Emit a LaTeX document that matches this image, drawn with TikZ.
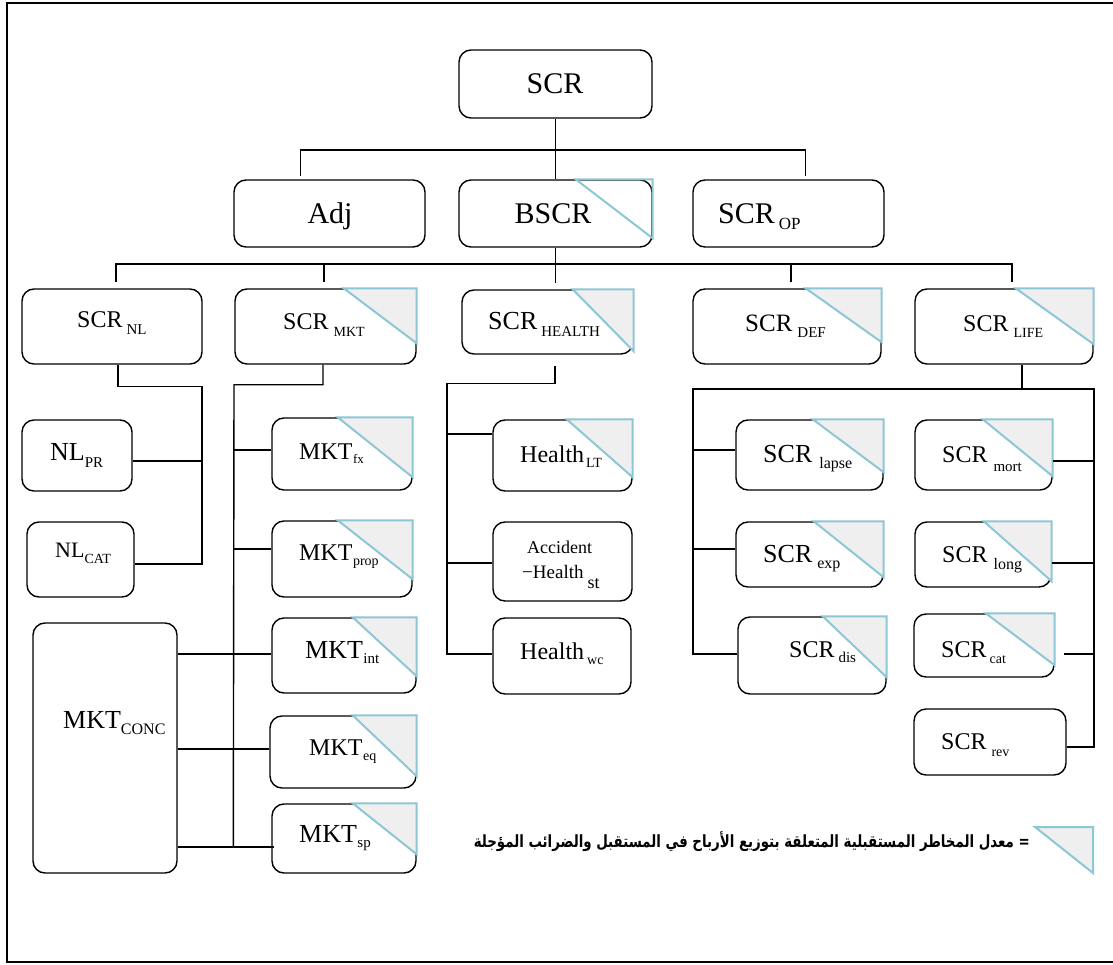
\documentclass[tikz,border=0pt]{standalone}
\usepackage{fontspec}
\usepackage{graphicx}
\setmainfont{Liberation Serif}
\newfontfamily\arabicfont[Script=Arabic]{DejaVu Sans}
\TeXXeTstate=1
\usetikzlibrary{calc}
\definecolor{cornerblue}{RGB}{141,198,213}
\definecolor{cornergray}{RGB}{239,239,239}
% font size helper and lowered index helper: size, drop, text
\newcommand{\fs}[1]{\fontsize{#1}{#1}\selectfont}
\newcommand{\dn}[3]{{\fs{#1}\raisebox{-#2pt}{#3}}}
% box given by its corners (x1,y1) (x2,y2) in pixel units
\newcommand{\boxat}[5]{%
  \pgfmathsetmacro{\bw}{#4-#2}\pgfmathsetmacro{\bh}{#5-#3}%
  \node[box, minimum width=\bw pt, minimum height=\bh pt] (#1) at ({(#2+#4)/2},{(#3+#5)/2}) {};}
% shaded corner triangle: node, width, height
\newcommand{\corner}[3]{\filldraw[tri] ([xshift=-#2pt]#1.north east) -- (#1.north east) -- ([yshift=-#3pt]#1.north east) -- cycle;}
\begin{document}
\begin{tikzpicture}[x=1pt, y=-1pt,
  box/.style={draw, rounded corners=12pt, line width=1.4pt, fill=white, inner sep=0pt},
  lbl/.style={inner sep=0pt, anchor=base west},
  tri/.style={fill=cornergray, draw=cornerblue, line width=2pt, line join=miter},
  wire/.style={line width=1.4pt}]
\useasboundingbox (0,0) rectangle (1113,965);
\fill[white] (0,0) rectangle (1113,965);
% outer frame
\draw[line width=2.2pt] (1113,3) -- (7,3) -- (7,962) -- (1113,962);

% ---- boxes ----
\boxat{scr}{459}{50}{652}{118}
\boxat{adj}{234}{180}{425}{247}
\boxat{bscr}{459}{180}{652}{247}
\boxat{scrop}{693}{180}{884}{247}
\boxat{nl}{22}{289}{202}{364}
\boxat{mkt}{235}{289}{416}{364}
\boxat{hlth}{462}{290}{633}{354}
\boxat{def}{693}{289}{881}{364}
\boxat{life}{915}{289}{1093}{364}
\boxat{nlpr}{22}{420}{132}{491}
\boxat{nlcat}{27}{522}{134}{597}
\boxat{fx}{272}{418}{412}{490}
\boxat{prop}{272}{521}{412}{597}
\boxat{int}{272}{618}{416}{693}
\boxat{eq}{270}{716}{416}{788}
\boxat{sp}{272}{804}{416}{873}
\boxat{conc}{33}{623}{177}{873}
\boxat{hlt}{493}{420}{632}{491}
\boxat{acc}{493}{522}{632}{601}
\boxat{hwc}{493}{618}{631}{694}
\boxat{lapse}{736}{420}{883}{490}
\boxat{exp}{736}{522}{883}{587}
\boxat{dis}{738}{617}{886}{694}
\boxat{mort}{915}{420}{1052}{490}
\boxat{long}{915}{522}{1051}{587}
\boxat{cat}{914}{614}{1054}{677}
\boxat{rev}{914}{709}{1066}{775}

% ---- corner triangles ----
\draw[tri, fill=none] ([xshift=-77pt]bscr.north east) -- (bscr.north east) -- ([yshift=-59pt]bscr.north east) -- cycle;
\corner{mkt}{73}{55}
\corner{hlth}{61}{62}
\corner{def}{76}{54}
\corner{life}{78}{56}
\corner{fx}{75}{60}
\corner{prop}{75}{59}
\corner{int}{64}{59}
\corner{eq}{64}{61}
\corner{sp}{64}{51}
\corner{hlt}{66}{58}
\corner{lapse}{71}{53}
\corner{exp}{70}{56}
\corner{dis}{64}{61}
\corner{mort}{70}{57}
\corner{long}{68}{60}
\corner{cat}{69}{52}

% ---- labels ----
\node[lbl, anchor=base] (t-scr) at (555,94) {\fs{30}SCR};
\node[lbl, anchor=base] (t-adj) at (330,224) {\fs{30}Adj};
\node[lbl, anchor=base] (t-bscr) at (553,224) {\fs{30}BSCR};
\node[lbl] (t-scrop) at (718,224) {\fs{30}SCR\hspace{4pt}\dn{17}{6}{OP}};
\node[lbl] (t-nl) at (77,328) {\fs{24}SCR\hspace{4pt}\dn{15}{6}{NL}};
\node[lbl] (t-mkt) at (283,330) {\fs{24}SCR\hspace{5pt}\dn{14}{7}{MKT}};
\node[lbl] (t-hlth) at (488,330) {\fs{26}SCR\hspace{4pt}\dn{15}{7}{HEALTH}};
\node[lbl] (t-def) at (745,331) {\fs{25}SCR\hspace{5pt}\dn{15}{6}{DEF}};
\node[lbl] (t-life) at (963,331) {\fs{24}SCR\hspace{5pt}\dn{14}{6}{LIFE}};
\node[lbl] (t-nlpr) at (50,460) {\fs{26}NL\dn{15}{7}{PR}};
\node[lbl] (t-nlcat) at (55,557) {\fs{22}NL\dn{14}{6}{CAT}};
\node[lbl] (t-fx) at (299,459) {\fs{24}MKT\hspace{0.5pt}\dn{13}{4}{fx}};
\node[lbl] (t-prop) at (299,560) {\fs{24}MKT\hspace{0.5pt}\dn{14}{5}{prop}};
\node[lbl] (t-int) at (305,658) {\fs{26}MKT\hspace{0.5pt}\dn{15}{5}{int}};
\node[lbl] (t-eq) at (309,755) {\fs{24}MKT\hspace{0.5pt}\dn{14}{5}{eq}};
\node[lbl] (t-sp) at (299,842) {\fs{26}MKT\hspace{0.5pt}\dn{15}{5}{sp}};
\node[lbl] (t-conc) at (63,728) {\fs{26}MKT\dn{16}{6}{CONC}};
\node[lbl] (t-hlt) at (520,462) {\fs{24}Health\hspace{2pt}\dn{14}{5}{LT}};
\node[lbl] (t-acc1) at (527,553) {\fs{18}Accident};
\node[lbl] (t-acc2) at (522,578) {\fs{19}−Health\hspace{4pt}\dn{18}{10}{st}};
\node[lbl] (t-hwc) at (520,659) {\fs{24}Health\hspace{3pt}\dn{14}{5}{wc}};
\node[lbl] (t-lapse) at (763,462) {\fs{26}SCR\hspace{7pt}\dn{16}{6}{lapse}};
\node[lbl] (t-exp) at (763,562) {\fs{26}SCR\hspace{5pt}\dn{16}{6}{exp}};
\node[lbl] (t-dis) at (789,657) {\fs{24}SCR\hspace{4pt}\dn{15}{5}{dis}};
\node[lbl] (t-mort) at (942,462) {\fs{24}SCR\hspace{6pt}\dn{15}{9}{mort}};
\node[lbl] (t-long) at (942,562) {\fs{24}SCR\hspace{6pt}\dn{16}{7}{long}};
\node[lbl] (t-cat) at (941,657) {\fs{24}SCR\hspace{3pt}\dn{14}{6}{cat}};
\node[lbl] (t-rev) at (941,749) {\fs{24}SCR\hspace{5pt}\dn{14}{7}{rev}};

% ---- connectors ----
% top level
\draw[wire] (scr.south) -- (bscr.north);
\coordinate (bus1) at (555,150);
\draw[wire] ($(adj.north)+(-29,-3)$) |- (bus1) -| ($(scrop.north)+(17,-3)$);
% second level bus
\coordinate (bus2) at (1012,264);
\draw[wire] ($(nl.north)+(4,-6)$) |- (bus2) -- ($(life.north)+(8,-6)$);
\draw[wire] ($(mkt.north)+(-1.5,-6)$) -- ($(mkt.north)+(-1.5,-25)$);
\draw[wire] ($(def.north)+(4,-6)$) -- ($(def.north)+(4,-25)$);
\draw[wire] (bscr.south) -- ($(bscr.south |- hlth.north)+(0,-6)$);
% non-life group
\draw[wire] ($(nl.south)+(6,0)$) |- ++(84,22) |- ($(nlcat.east)+(0,4.5)$);
\draw[wire] ($(nlpr.east)+(0,5.5)$) -- ++(70,0);
% market group
\coordinate (ci) at ($(int.west)+(0,-1.5)$);
\coordinate (ce) at ($(eq.west)+(0,-3)$);
\coordinate (cs) at ($(sp.west)+(3,8.5)$);
\draw[wire] ($(mkt.south)+(-2.5,0)$) |- ++(-89,20) -- ($(cs)+(-41,0)$);
\draw[wire] ($(fx.west)+(0,-4)$) -- ++(-38,0);
\draw[wire] ($(prop.west)+(0,-10)$) -- ++(-38,0);
\draw[wire] (conc.east |- ci) -- (ci);
\draw[wire] (conc.east |- ce) -- (ce);
\draw[wire] (conc.east |- cs) -- (cs);
% health group
\draw[wire] ($(hlth.south)+(7.5,11)$) |- ++(-108,18) |- ($(hwc.west)+(0,-2)$);
\draw[wire] ($(hlt.west)+(0,-21.5)$) -- ++(-46,0);
\draw[wire] ($(acc.west)+(0,1.5)$) -- ++(-46,0);
% life and default group
\coordinate (lbl) at (693,389);
\coordinate (lbr) at (1094,389);
\coordinate (dc) at ($(dis.west)+(0,-1.5)$);
\coordinate (rc) at ($(rev.east)+(0,5)$);
\draw[wire] ($(life.south)+(18,0)$) -- ($(life.south)+(18,25)$);
\draw[wire] (dc) -| (lbl) -- (lbr) |- (rc);
\draw[wire] ($(lapse.west)+(0,-5)$) -- ++(-43,0);
\draw[wire] ($(exp.west)+(0,-5.5)$) -- ++(-43,0);
\draw[wire] ($(mort.east)+(0,6)$) -- ++(42,0);
\draw[wire] ($(long.east)+(0,8.5)$) -- ++(43,0);
\draw[wire] ($(cat.east)+(9,8.5)$) -- ++(31,0);

% ---- legend ----
\filldraw[tri] (1035,827) -- (1093,827) -- (1093,873) -- cycle;
\node[inner sep=0pt, anchor=base east] (legend) at (1030,847)
  {\resizebox*{556pt}{20pt}{\arabicfont\bfseries\beginR = معدل المخاطر المستقبلية المتعلقة بتوزيع الأرباح في المستقبل والضرائب المؤجلة\endR}};
\end{tikzpicture}
\end{document}
